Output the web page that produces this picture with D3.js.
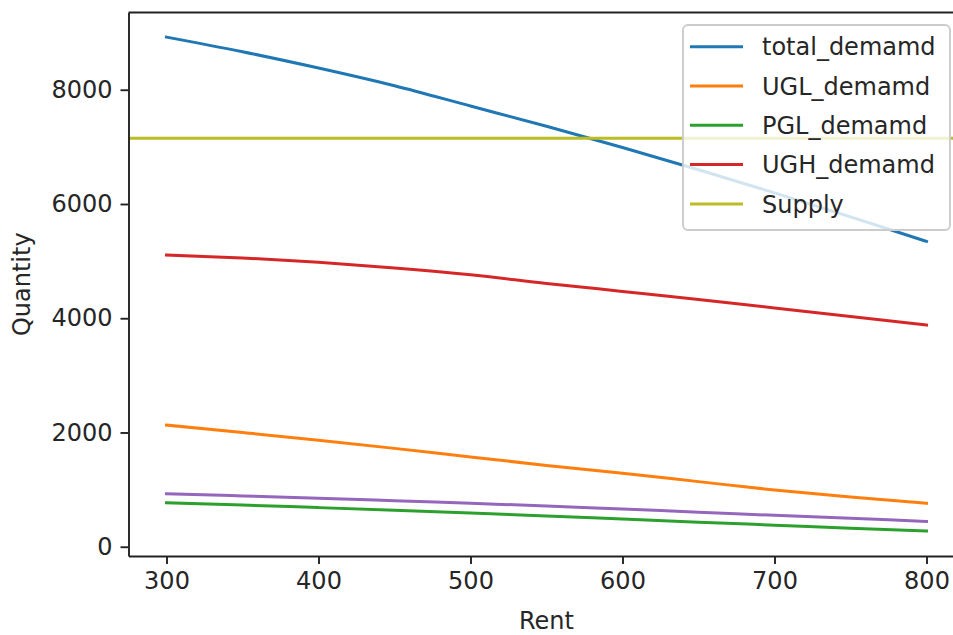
<!DOCTYPE html>
<html lang="en">
<head>
    <meta charset="UTF-8">
    <title>Rent vs Quantity</title>
    <style>
        body {
            margin: 0;
            background-color: #fff;
        }
        svg {
            display: block;
            font-family: "DejaVu Sans", sans-serif;
        }
    </style>
</head>
<body>
    <script src="https://cdnjs.cloudflare.com/ajax/libs/d3/7.8.5/d3.min.js"></script>
<script>
    const width = 953;
    const height = 635;

    // values
    const rent = [300, 350, 400, 450, 500, 550, 600, 650, 700, 750, 800];
    const total_demamd = [8921, 8665, 8380, 8070, 7715, 7360, 6990, 6600, 6195, 5775, 5345];
    const UGL_demamd = [2130, 2000, 1866, 1722, 1572, 1424, 1286, 1140, 993, 870, 760];
    const PGL_demamd = [770, 730, 685, 640, 592, 540, 485, 430, 378, 325, 275];
    const UGH_demamd = [5106, 5055, 4980, 4880, 4760, 4610, 4470, 4330, 4180, 4030, 3881];
    const other_demamd = [928, 890, 850, 806, 760, 715, 660, 605, 550, 497, 444];
    const supply = 7150;

    const xTicks = [300, 400, 500, 600, 700, 800];
    const yTicks = [0, 2000, 4000, 6000, 8000];

    const series = [
        {name: "total_demamd", values: total_demamd, color: "#1f77b4", legend: true},
        {name: "UGL_demamd", values: UGL_demamd, color: "#ff7f0e", legend: true},
        {name: "PGL_demamd", values: PGL_demamd, color: "#2ca02c", legend: true},
        {name: "UGH_demamd", values: UGH_demamd, color: "#d62728", legend: true},
        {name: "", values: other_demamd, color: "#9467bd", legend: false},
    ];
    const legendItems = series.filter(s => s.legend)
        .concat([{name: "Supply", color: "#bcbd22"}]);

    const fontSize = 24;
    const textColor = "#262626";

    const x = d3.scaleLinear()
        .domain([275, 825])
        .range([128.5, 964.5]);
    const y = d3.scaleLinear()
        .domain([-162, 9352])
        .range([556, 12.5]);

    const svg = d3.select("body").append("svg")
        .attr("width", width)
        .attr("height", height);

    svg.append("rect")
        .attr("width", width)
        .attr("height", height)
        .attr("fill", "#fff");

    const line = d3.line()
        .x((d, i) => x(rent[i]))
        .y(d => y(d))
        .curve(d3.curveMonotoneX);

    series.forEach(s => {
        svg.append("path")
            .datum(s.values)
            .attr("fill", "none")
            .attr("stroke", s.color)
            .attr("stroke-width", 3)
            .attr("stroke-linecap", "square")
            .attr("d", line);
    });

    // axhline for supply
    svg.append("line")
        .attr("x1", x.range()[0])
        .attr("x2", x.range()[1])
        .attr("y1", y(supply))
        .attr("y2", y(supply))
        .attr("stroke", "#bcbd22")
        .attr("stroke-width", 3);

    // axes
    const xAxis = svg.append("g")
        .attr("transform", `translate(0, ${y.range()[0]})`)
        .call(d3.axisBottom(x).tickValues(xTicks).tickSize(8).tickPadding(8).tickSizeOuter(0));
    const yAxis = svg.append("g")
        .attr("transform", `translate(${x.range()[0]}, 0)`)
        .call(d3.axisLeft(y).tickValues(yTicks).tickFormat(d3.format("d"))
            .tickSize(8).tickPadding(8).tickSizeOuter(0));

    [xAxis, yAxis].forEach(g => {
        g.select(".domain").attr("stroke", "#222").attr("stroke-width", 1.9);
        g.selectAll(".tick line").attr("stroke", "#222").attr("stroke-width", 1.9);
        g.selectAll(".tick text")
            .attr("fill", textColor)
            .style("font-size", fontSize + "px")
            .style("font-family", "DejaVu Sans");
    });

    // top and right spines
    svg.append("line")
        .attr("x1", x.range()[0])
        .attr("x2", x.range()[1])
        .attr("y1", y.range()[1])
        .attr("y2", y.range()[1])
        .attr("stroke", "#222")
        .attr("stroke-width", 1.9);
    svg.append("line")
        .attr("x1", x.range()[1])
        .attr("x2", x.range()[1])
        .attr("y1", y.range()[0])
        .attr("y2", y.range()[1])
        .attr("stroke", "#222")
        .attr("stroke-width", 1.9);

    svg.append("text")
        .attr("x", (x.range()[0] + x.range()[1]) / 2)
        .attr("y", 629)
        .attr("text-anchor", "middle")
        .attr("fill", textColor)
        .style("font-size", fontSize + "px")
        .text("Rent");

    svg.append("text")
        .attr("transform", `translate(30, ${(y.range()[0] + y.range()[1]) / 2}) rotate(-90)`)
        .attr("text-anchor", "middle")
        .attr("fill", textColor)
        .style("font-size", fontSize + "px")
        .text("Quantity");

    // legend
    const legend = svg.append("g");
    legend.append("rect")
        .attr("x", 683)
        .attr("y", 25)
        .attr("width", 267)
        .attr("height", 205)
        .attr("rx", 5)
        .attr("fill", "#fff")
        .attr("fill-opacity", 0.8)
        .attr("stroke", "#ccc")
        .attr("stroke-width", 1.9);

    const rowH = 39.3;
    const item = legend.selectAll(".item")
        .data(legendItems)
        .enter()
        .append("g")
        .attr("transform", (d, i) => `translate(0, ${46.7 + i * rowH})`);
    item.append("line")
        .attr("x1", 690)
        .attr("x2", 743)
        .attr("stroke", d => d.color)
        .attr("stroke-width", 3);
    item.append("text")
        .attr("x", 762)
        .attr("dy", "0.36em")
        .attr("fill", textColor)
        .style("font-size", fontSize + "px")
        .text(d => d.name);
</script>
</body>
</html>
